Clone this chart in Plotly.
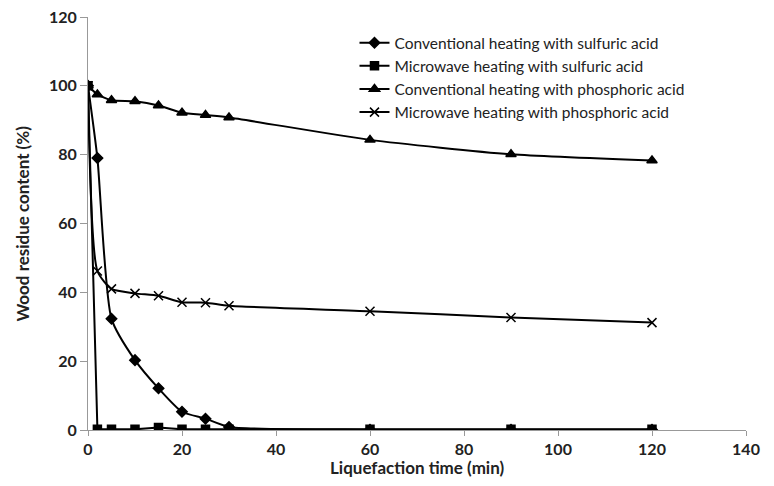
import plotly.graph_objects as go

time_min = [0, 2, 5, 10, 15, 20, 25, 30, 60, 90, 120]
conv_sulfuric = [100, 79, 32.3, 20.3, 12.1, 5.3, 3.3, 0.9, 0.1, 0.1, 0.1]
micro_sulfuric = [100, 0.2, 0.2, 0.2, 0.7, 0.2, 0.2, 0.2, 0.2, 0.2, 0.2]
conv_phosphoric = [100, 97.5, 95.8, 95.5, 94.3, 92.2, 91.5, 90.8, 84.3, 80.1, 78.3]
micro_phosphoric = [100, 46.2, 41.0, 39.7, 39.0, 37.1, 37.0, 36.1, 34.5, 32.7, 31.2]

names = [
    "Conventional heating with sulfuric acid",
    "Microwave heating with sulfuric acid",
    "Conventional heating with phosphoric acid",
    "Microwave heating with phosphoric acid",
]
x_ticks = [0, 20, 40, 60, 80, 100, 120, 140]
y_ticks = [0, 20, 40, 60, 80, 100, 120]
x_title = "Liquefaction time (min)"
y_title = "Wood residue content (%)"

series = [conv_sulfuric, micro_sulfuric, conv_phosphoric, micro_phosphoric]
symbols = ["diamond", "square", "triangle-up", "x-thin-open"]
sizes = [8, 8, 9, 9]
shapes = ["spline", "linear", "spline", "spline"]

fig = go.Figure()
for ys, nm, sym, sz, sh in zip(series, names, symbols, sizes, shapes):
    fig.add_trace(go.Scatter(
        x=time_min, y=ys, name=nm, mode="lines+markers",
        line=dict(color="black", width=2, shape=sh, smoothing=0.6),
        marker=dict(symbol=sym, size=sz, color="black",
                    line=dict(color="black", width=1.5)),
    ))

tick_font = dict(family="Lato, sans-serif", size=16, color="#222", weight="bold")
title_font = dict(family="Lato, sans-serif", size=17, color="#222", weight="bold")

# page body has an 8px default margin; figure sized to fit the window
fig.update_layout(
    width=766, height=478,
    margin=dict(l=80, r=28, t=9, b=56, autoexpand=False),
    plot_bgcolor="white", paper_bgcolor="white",
    font=dict(family="Lato, Open Sans, sans-serif", color="#222"),
    showlegend=True,
    legend=dict(x=0.405, y=0.978, xanchor="left", yanchor="top",
                font=dict(size=15.5, color="#222"), bgcolor="rgba(0,0,0,0)",
                tracegroupgap=0, itemwidth=30),
    xaxis=dict(range=[0, 140], tickvals=x_ticks, showgrid=False, zeroline=False,
               showline=True, linecolor="#999", linewidth=1, automargin=False,
               ticks="outside", ticklen=5, tickcolor="#999", tickfont=tick_font,
               ticklabeloverflow="allow"),
    yaxis=dict(range=[0, 120], tickvals=y_ticks, showgrid=False, zeroline=False,
               showline=True, linecolor="#999", linewidth=1, automargin=False,
               ticks="outside", ticklen=7, tickcolor="#999", tickfont=tick_font,
               ticklabeloverflow="allow"),
    annotations=[
        dict(text=x_title, xref="paper", yref="paper", x=0.5, y=0,
             yshift=-37, xanchor="center", yanchor="middle",
             showarrow=False, font=title_font),
        dict(text=y_title, xref="paper", yref="paper", x=0, y=0.5,
             xshift=-66, xanchor="center", yanchor="middle", textangle=-90,
             showarrow=False, font=title_font),
    ],
)

fig.write_html("out.html")
